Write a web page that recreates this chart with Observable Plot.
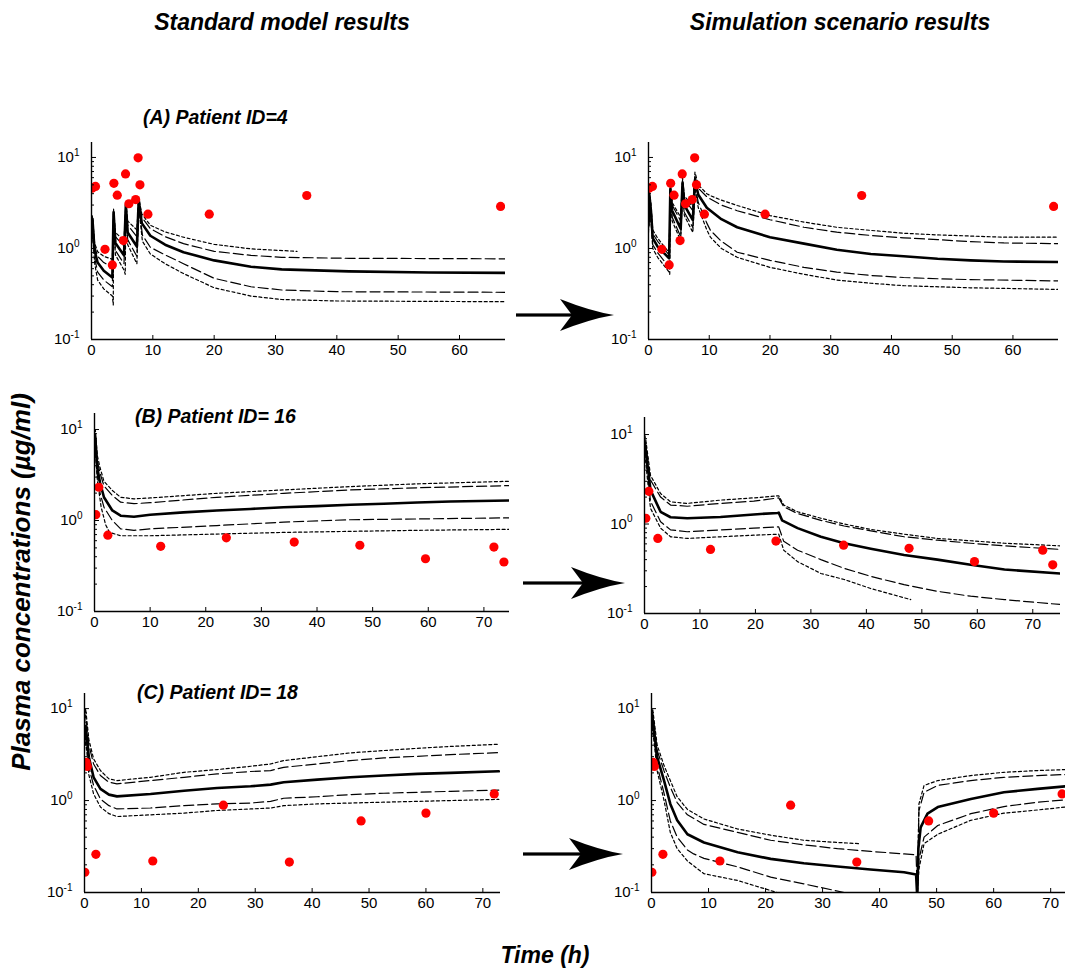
<!DOCTYPE html>
<html><head><meta charset="utf-8">
<script src="https://cdn.jsdelivr.net/npm/d3@7"></script>
<script src="https://cdn.jsdelivr.net/npm/@observablehq/plot@0.6"></script>
<style>
body{margin:0;background:#fff;}
#root{position:relative;width:1065px;height:969px;overflow:hidden;background:#fff;font-family:"Liberation Sans",Arial,sans-serif;}
.t{position:absolute;font-weight:bold;font-style:italic;white-space:nowrap;color:#000;}
</style></head><body><div id="root"></div>
<script>
// ---------- DATA (time in h, concentration in µg/ml) ----------
const colTitles = ["Standard model results", "Simulation scenario results"];
const panelTitles = ["(A) Patient ID=4", "(B) Patient ID= 16", "(C) Patient ID= 18"];
const yLabel = "Plasma concentrations (µg/ml)";
const xLabel = "Time (h)";
const yMajor = [0.1, 1, 10];
const yMinor = [0.2,0.3,0.4,0.5,0.6,0.7,0.8,0.9,2,3,4,5,6,7,8,9];
const yTickExp = ["-1", "0", "1"];
const xTicksA = [0,10,20,30,40,50,60];
const xTicksBC = [0,10,20,30,40,50,60,70];

// observed concentrations
const obsA = [[0.1,4.6],[0.65,4.8],[2.2,0.98],[3.4,0.66],[3.65,5.2],[4.2,3.85],[5.2,1.22],[5.55,6.6],[6.1,3.1],[7.2,3.45],[7.6,9.9],[7.9,5.0],[9.2,2.38],[19.2,2.38],[35.1,3.82],[66.7,2.9]];
const obsB = [[0.24,1.16],[0.78,2.32],[2.4,0.69],[11.9,0.52],[23.7,0.645],[35.9,0.58],[47.7,0.535],[59.5,0.38],[71.8,0.51],[73.6,0.35]];
const obsC = [[0.06,0.166],[0.3,2.6],[0.5,2.35],[2.0,0.26],[12.0,0.22],[24.4,0.89],[36.0,0.214],[48.6,0.60],[60.0,0.73],[72.0,1.18]];

// Patient 4, standard model
const medA_std = [[0,1.3],[0.15,2.1],[0.5,0.95],[1,0.7],[2,0.57],[3.4,0.48],[3.6,2.5],[3.9,1.15],[5.3,0.84],[5.6,3.0],[5.9,1.5],[7.4,1.05],[7.7,3.4],[8.2,1.9],[9.6,1.38],[12,1.1],[15,0.91],[20,0.74],[26,0.63],[31,0.59],[42,0.56],[55,0.545],[67.5,0.54]];
const hiA_std = [[0,1.5],[0.15,2.2],[0.5,1.05],[1,0.82],[2,0.7],[3.4,0.62],[3.6,2.6],[3.9,1.35],[5.3,1.05],[5.6,3.1],[5.9,1.8],[7.4,1.35],[7.7,3.5],[8.2,2.2],[9.6,1.65],[12,1.35],[15,1.13],[20,0.93],[26,0.84],[31,0.8],[42,0.78],[55,0.775],[67.5,0.77]];
const topA_std = [[0,1.6],[0.15,2.3],[0.5,1.15],[1,0.92],[2,0.82],[3.4,0.76],[3.6,2.7],[3.9,1.5],[5.3,1.22],[5.6,3.2],[5.9,2.0],[7.4,1.6],[7.7,3.6],[8.2,2.4],[9.6,1.8],[12,1.52],[15,1.33],[20,1.11],[26,0.99],[33.5,0.93]];
const loA_std = [[0,1.1],[0.15,1.9],[0.5,0.8],[1,0.55],[2,0.45],[3.4,0.38],[3.6,2.2],[3.9,0.95],[5.3,0.68],[5.6,2.8],[5.9,1.25],[7.4,0.82],[7.7,3.1],[8.3,1.4],[9.6,1.03],[12,0.85],[15,0.68],[20,0.47],[26,0.38],[31,0.35],[40,0.335],[67.5,0.33]];
const botA_std = [[0,1.0],[0.15,1.7],[0.5,0.7],[1,0.45],[2,0.36],[3.4,0.3],[3.55,0.24],[3.6,2.0],[3.9,0.85],[5.3,0.58],[5.5,0.52],[5.6,2.6],[5.9,1.1],[7.4,0.68],[7.7,2.9],[8.3,1.2],[9.6,0.87],[12,0.68],[15,0.53],[20,0.37],[26,0.3],[31,0.275],[40,0.265],[67.5,0.26]];

// Patient 4, simulation scenario
const medA_sim = [[0,1.8],[0.15,3.8],[0.4,2.6],[0.7,1.3],[1.5,1.05],[3.4,0.78],[3.6,4.5],[3.9,2.6],[5.3,1.65],[5.6,5.2],[5.9,3.0],[7.3,2.05],[7.65,5.6],[8.2,3.9],[9.6,2.8],[12,2.1],[14.6,1.71],[20,1.33],[25.6,1.13],[31,0.97],[36.6,0.87],[42,0.82],[47.6,0.77],[53,0.74],[58.5,0.72],[67.5,0.71]];
const hiA_sim = [[0,2.0],[0.15,4.0],[0.4,2.9],[0.7,1.45],[1.5,1.2],[3.4,0.85],[3.6,4.8],[3.9,3.0],[5.3,2.0],[5.6,5.6],[5.9,3.5],[7.3,2.6],[7.65,6.2],[8.2,4.6],[9.6,3.7],[10.2,3.5],[12,3.0],[14.6,2.6],[20,2.07],[25.6,1.71],[31,1.51],[36.6,1.39],[42,1.31],[47.6,1.25],[53,1.19],[58.5,1.15],[67.5,1.13]];
const topA_sim = [[0,2.2],[0.15,4.3],[0.4,3.1],[0.7,1.6],[1.5,1.3],[3.4,0.9],[3.6,5.1],[3.9,3.2],[5.3,2.2],[5.6,6.0],[5.9,3.8],[7.3,2.85],[7.65,6.9],[8.2,5.0],[9.6,4.0],[10.2,3.8],[12,3.4],[14.6,2.97],[20,2.3],[25.6,1.95],[31,1.71],[36.6,1.58],[42,1.47],[47.6,1.41],[53,1.37],[58.5,1.33],[67.5,1.33]];
const loA_sim = [[0,1.6],[0.15,3.4],[0.4,2.3],[0.7,1.1],[1.5,0.9],[3.4,0.62],[3.6,4.0],[3.9,2.2],[5.3,1.35],[5.6,4.6],[5.9,2.5],[7.3,1.7],[7.65,5.0],[8.2,3.2],[9.6,1.9],[10.2,1.58],[12,1.2],[14.6,0.91],[20,0.74],[25.6,0.62],[31,0.55],[36.6,0.505],[42,0.48],[47.6,0.465],[53,0.455],[67.5,0.44]];
const botA_sim = [[0,1.5],[0.15,3.1],[0.4,2.1],[0.7,1.0],[1.5,0.8],[3.4,0.55],[3.5,0.52],[3.6,3.6],[3.9,2.0],[5.3,1.22],[5.6,4.2],[5.9,2.3],[7.3,1.5],[7.65,4.6],[8.2,2.8],[9.6,1.6],[10.2,1.33],[12,1.0],[14.6,0.8],[20,0.62],[25.6,0.52],[31,0.45],[36.6,0.415],[42,0.39],[53,0.37],[67.5,0.355]];

// Patient 16, standard model
const medB_std = [[0,8],[0.15,8],[0.48,3.85],[1.0,2.6],[1.7,1.8],[3.2,1.29],[4.7,1.13],[7.1,1.1],[10,1.155],[16,1.23],[22,1.29],[28,1.34],[34,1.4],[40,1.44],[46,1.49],[52,1.53],[58,1.58],[64,1.62],[74.6,1.66]];
const hiB_std = [[0,9],[0.15,9],[0.5,4.6],[1.0,3.3],[1.7,2.4],[3.2,1.88],[4.7,1.59],[7.1,1.53],[10,1.57],[22,1.8],[34,1.99],[46,2.17],[58,2.29],[74.6,2.42]];
const topB_std = [[0,10],[0.15,10],[0.5,5.2],[1.0,3.8],[1.7,2.7],[3.2,2.14],[4.7,1.8],[7.1,1.73],[10,1.77],[22,1.99],[34,2.17],[46,2.36],[58,2.53],[74.6,2.7]];
const loB_std = [[0,7],[0.15,7],[0.5,3.2],[1.0,2.0],[1.7,1.4],[3.2,1.0],[4.7,0.81],[7.1,0.78],[10,0.81],[22,0.88],[34,0.96],[46,1.02],[58,1.04],[74.6,1.07]];
const botB_std = [[0,6],[0.15,6],[0.5,2.8],[1.2,1.4],[2.0,0.9],[2.7,0.74],[4.7,0.68],[7.1,0.68],[10,0.68],[22,0.71],[34,0.74],[46,0.76],[58,0.78],[74.6,0.8]];

// Patient 16, simulation scenario
const medB_sim = [[0,8],[0.2,7],[1.08,2.39],[2.9,1.37],[4.7,1.19],[7.7,1.16],[13.7,1.2],[19.7,1.28],[24,1.33],[24.2,1.34],[24.8,1.1],[27.6,0.9],[31.8,0.72],[36,0.61],[40.8,0.53],[46.8,0.45],[52.8,0.4],[58.8,0.35],[64.9,0.31],[75,0.28]];
const hiB_sim = [[0,9],[0.2,8],[1.08,3.1],[2.9,2.0],[4.7,1.63],[7.7,1.58],[13.7,1.7],[19.7,1.8],[24.2,1.96],[25.1,1.56],[27.6,1.31],[31.8,1.1],[36,0.95],[40.8,0.84],[46.8,0.72],[52.8,0.66],[58.8,0.61],[64.9,0.57],[75,0.52]];
const topB_sim = [[0,10],[0.2,9],[1.08,3.5],[2.9,2.19],[4.7,1.77],[7.7,1.7],[13.7,1.85],[19.7,1.96],[24.2,2.07],[25.1,1.63],[27.6,1.37],[31.8,1.16],[36,1.0],[40.8,0.87],[46.8,0.77],[52.8,0.69],[58.8,0.65],[64.9,0.61],[75,0.57]];
const loB_sim = [[0,7],[0.2,6],[1.08,1.8],[2.9,1.06],[4.7,0.86],[7.7,0.82],[13.7,0.86],[19.7,0.9],[24.2,0.93],[25.1,0.64],[27.6,0.51],[31.8,0.4],[36,0.32],[40.8,0.26],[46.8,0.21],[52.8,0.177],[58.8,0.156],[64.9,0.143],[75,0.126]];
const botB_sim = [[0,6],[0.2,5],[1.08,1.5],[2.9,0.9],[4.7,0.72],[7.7,0.69],[13.7,0.72],[19.7,0.75],[24.2,0.77],[25.1,0.51],[27.6,0.38],[31.8,0.28],[36,0.24],[40.8,0.19],[46.8,0.15],[48,0.143]];

// Patient 18, standard model
const medC_std = [[0,5],[0.2,6.5],[0.77,2.96],[1.6,1.79],[2.8,1.34],[4.3,1.16],[5.7,1.11],[11.6,1.18],[17.5,1.28],[23.3,1.37],[29.2,1.43],[32.7,1.49],[35,1.58],[40.9,1.69],[46.7,1.79],[52.6,1.87],[58.5,1.95],[64.3,2.0],[72.8,2.08]];
const hiC_std = [[0,7],[0.2,8.5],[0.77,4.0],[1.6,2.5],[2.8,1.87],[4.3,1.58],[5.7,1.52],[11.6,1.65],[17.5,1.79],[23.3,1.95],[29.2,2.07],[32.7,2.12],[35,2.3],[40.9,2.5],[46.7,2.72],[52.6,2.91],[58.5,3.03],[64.3,3.16],[72.8,3.32]];
const topC_std = [[0,8],[0.2,10],[0.77,4.6],[1.6,2.84],[2.8,2.12],[4.3,1.72],[5.7,1.65],[11.6,1.79],[17.5,2.03],[23.3,2.17],[29.2,2.36],[32.7,2.5],[35,2.72],[40.9,3.0],[46.7,3.3],[52.6,3.5],[58.5,3.7],[64.3,3.88],[72.8,4.1]];
const loC_std = [[0,4],[0.2,5.5],[0.77,2.3],[1.6,1.46],[2.8,1.04],[4.3,0.88],[5.7,0.81],[11.6,0.83],[17.5,0.88],[23.3,0.92],[29.2,0.94],[32.7,0.98],[35,1.06],[40.9,1.1],[46.7,1.16],[52.6,1.2],[58.5,1.23],[64.3,1.26],[72.8,1.3]];
const botC_std = [[0,3.5],[0.2,4.8],[0.77,1.9],[1.6,1.18],[2.8,0.85],[4.3,0.72],[5.7,0.67],[11.6,0.7],[17.5,0.73],[23.3,0.78],[29.2,0.81],[32.7,0.83],[35,0.88],[40.9,0.92],[46.7,0.94],[52.6,0.96],[58.5,0.98],[64.3,1.0],[72.8,1.03]];

// Patient 18, simulation scenario
const medC_sim = [[0,6],[0.2,7.7],[1.0,2.96],[2.2,1.65],[3.3,0.92],[4.5,0.61],[6.3,0.43],[9.2,0.35],[15.1,0.274],[20.9,0.232],[26.7,0.208],[32.6,0.192],[38.4,0.178],[44.3,0.166],[46.4,0.157],[46.6,0.09],[46.8,0.3],[47.2,0.51],[48.4,0.72],[50.2,0.85],[56,1.04],[61.8,1.23],[67.7,1.34],[72.6,1.43]];
const hiC_sim = [[0,8],[0.2,9],[1.0,3.5],[2.2,2.1],[3.3,1.4],[4.5,0.95],[6.3,0.7],[9.2,0.55],[15.1,0.45],[20.9,0.37],[26.7,0.33],[32.6,0.3],[38.4,0.28],[44.3,0.263],[46.4,0.257],[46.6,0.1],[46.9,0.78],[47.8,1.23],[50.2,1.46],[56,1.65],[61.8,1.79],[67.7,1.87],[72.6,1.92]];
const topC_sim = [[0,9],[0.2,10],[1.0,4.0],[2.2,2.4],[3.3,1.65],[4.5,1.1],[6.3,0.8],[9.2,0.63],[15.1,0.49],[20.9,0.42],[26.7,0.37],[32.6,0.35],[36.4,0.34]];
const topC_sim2 = [[46.6,0.1],[46.9,0.92],[47.8,1.46],[50.2,1.65],[56,1.87],[61.8,2.03],[67.7,2.12],[72.6,2.17]];
const loC_sim = [[0,6],[0.2,7],[1.0,2.4],[2.2,1.2],[3.3,0.6],[4.5,0.4],[6.3,0.29],[7.4,0.263],[9.2,0.235],[15.1,0.19],[20.9,0.147],[26.7,0.124],[33.8,0.1],[36,0.095]];
const loC_sim2 = [[46.6,0.09],[46.9,0.23],[47.8,0.4],[50.2,0.535],[56,0.72],[61.8,0.86],[67.7,0.96],[72.6,1.02]];
const botC_sim = [[0,5],[0.2,6],[1.0,2.1],[2.2,1.0],[3.3,0.45],[4.5,0.3],[6.3,0.22],[9.2,0.16],[15.1,0.135],[22,0.1],[24,0.095]];
const botC_sim2 = [[46.6,0.09],[46.9,0.18],[47.8,0.34],[50.2,0.43],[56,0.61],[61.8,0.73],[67.7,0.79],[72.6,0.85]];

// ---------- STYLES & LAYOUT ----------
const STYLE = {
  med: {w: 2.6, dash: null},
  dash: {w: 1.2, dash: "10,4"},
  dot: {w: 1.2, dash: "3,2.5"}
};
const S = (data, kind) => ({data, kind});
const panels = [
  {frame:[91,505,142,339], xDomain:[0,67.5], yDomain:[0.1,14.6], xTicks:xTicksA, obs:obsA,
   series:[S(topA_std,"dot"),S(hiA_std,"dash"),S(medA_std,"med"),S(loA_std,"dash"),S(botA_std,"dot")]},
  {frame:[648,1058,142,339], xDomain:[0,67.5], yDomain:[0.1,14.6], xTicks:xTicksA, obs:obsA,
   series:[S(topA_sim,"dot"),S(hiA_sim,"dash"),S(medA_sim,"med"),S(loA_sim,"dash"),S(botA_sim,"dot")]},
  {frame:[94,509,413,611], xDomain:[0,74.6], yDomain:[0.1,15], xTicks:xTicksBC, obs:obsB,
   series:[S(topB_std,"dot"),S(hiB_std,"dash"),S(medB_std,"med"),S(loB_std,"dash"),S(botB_std,"dot")]},
  {frame:[644,1060,417,613], xDomain:[0,75], yDomain:[0.1,15.5], xTicks:xTicksBC, obs:obsB,
   series:[S(topB_sim,"dot"),S(hiB_sim,"dash"),S(medB_sim,"med"),S(loB_sim,"dash"),S(botB_sim,"dot")]},
  {frame:[84,500,693,892], xDomain:[0,73.1], yDomain:[0.1,14.6], xTicks:xTicksBC, obs:obsC,
   series:[S(topC_std,"dot"),S(hiC_std,"dash"),S(medC_std,"med"),S(loC_std,"dash"),S(botC_std,"dot")]},
  {frame:[651,1065,693,892], xDomain:[0,72.6], yDomain:[0.1,14.6], xTicks:xTicksBC, obs:obsC,
   series:[S(topC_sim,"dot"),S(topC_sim2,"dot"),S(hiC_sim,"dash"),S(medC_sim,"med"),S(loC_sim,"dash"),S(loC_sim2,"dash"),S(botC_sim,"dot"),S(botC_sim2,"dot")]}
];

const root = document.getElementById("root");
const FONT = '"Liberation Sans", Arial, sans-serif';
const NS = "http://www.w3.org/2000/svg";

function drawPanel(cfg) {
  const [x0,x1,y0,y1] = cfg.frame;
  const ml = 60, mr = 8, mt = 8, mb = 28;
  const marks = [];
  for (const s of cfg.series) {
    const st = STYLE[s.kind];
    marks.push(Plot.line(s.data, {x: d => d[0], y: d => d[1], stroke: "#000", strokeWidth: st.w,
      strokeDasharray: st.dash, clip: true}));
  }
  marks.push(Plot.dot(cfg.obs, {x: d => d[0], y: d => d[1], r: 4.6, fill: "#ff0000", stroke: "none", clip: true}));
  marks.push(Plot.ruleX([cfg.xDomain[0]], {stroke: "#000", strokeWidth: 1.4}));
  marks.push(Plot.ruleY([cfg.yDomain[0]], {stroke: "#000", strokeWidth: 1.4}));
  marks.push(Plot.axisY({ticks: yMajor, tickSize: 0, tickPadding: 12, label: null, fontSize: 15,
    tickFormat: d => "10"}));
  marks.push(Plot.axisY({ticks: yMajor, tickSize: 5, dx: 5, label: null, tickFormat: () => ""}));
  marks.push(Plot.axisY({ticks: yMinor, tickSize: 3, dx: 3, label: null, tickFormat: () => ""}));
  marks.push(Plot.axisX({ticks: cfg.xTicks, tickSize: 0, tickPadding: 5, label: null, fontSize: 15}));
  marks.push(Plot.axisX({ticks: cfg.xTicks, tickSize: 4, dy: -4, label: null, tickFormat: () => ""}));
  const svg = Plot.plot({
    width: (x1 - x0) + ml + mr, height: (y1 - y0) + mt + mb,
    marginLeft: ml, marginRight: mr, marginTop: mt, marginBottom: mb,
    x: {domain: cfg.xDomain},
    y: {type: "log", domain: cfg.yDomain},
    style: {fontFamily: FONT, fontSize: "15px", background: "transparent", color: "#000", overflow: "visible"},
    marks
  });
  // add exponent superscripts to the "10" tick labels
  const g = svg.querySelector('g[aria-label="y-axis tick label"]');
  if (g) {
    g.querySelectorAll("text").forEach((t, i) => {
      const ts = document.createElementNS(NS, "tspan");
      ts.setAttribute("font-size", "10");
      ts.setAttribute("dy", "-0.65em");
      ts.textContent = yTickExp[i];
      t.appendChild(ts);
    });
  }
  svg.style.position = "absolute";
  svg.style.left = (x0 - ml) + "px";
  svg.style.top = (y0 - mt) + "px";
  svg.style.maxWidth = "none";
  root.appendChild(svg);
}
panels.forEach(drawPanel);

// ---------- TEXT ----------
function addText(str, cx, cy, size, rotate) {
  const d = document.createElement("div");
  d.className = "t";
  d.textContent = str;
  d.style.fontSize = size + "px";
  d.style.left = cx + "px";
  d.style.top = cy + "px";
  d.style.transform = "translate(-50%,-50%)" + (rotate ? ` rotate(${rotate}deg)` : "");
  root.appendChild(d);
}
function addTextLeft(str, x, cy, size) {
  const d = document.createElement("div");
  d.className = "t";
  d.textContent = str;
  d.style.fontSize = size + "px";
  d.style.left = x + "px";
  d.style.top = cy + "px";
  d.style.transform = "translate(0,-50%)";
  root.appendChild(d);
}
addText(colTitles[0], 282, 22, 23);
addText(colTitles[1], 840, 22, 23);
addTextLeft(panelTitles[0], 143, 117, 19.5);
addTextLeft(panelTitles[1], 135, 416, 19.5);
addTextLeft(panelTitles[2], 137, 692, 19.5);
addText(yLabel, 21, 582, 26, -90);
addText(xLabel, 545, 955, 23);

// ---------- ARROWS ----------
const arrows = [[516, 614, 315], [523, 625, 583], [523, 623, 854]];
const asvg = document.createElementNS(NS, "svg");
asvg.setAttribute("width", 1065); asvg.setAttribute("height", 969);
asvg.style.position = "absolute"; asvg.style.left = "0"; asvg.style.top = "0"; asvg.style.pointerEvents = "none";
for (const [xs, xt, y] of arrows) {
  const shaft = document.createElementNS(NS, "rect");
  shaft.setAttribute("x", xs); shaft.setAttribute("y", y - 1.6);
  shaft.setAttribute("width", xt - 40 - xs); shaft.setAttribute("height", 3.2);
  shaft.setAttribute("fill", "#000");
  asvg.appendChild(shaft);
  const head = document.createElementNS(NS, "path");
  head.setAttribute("d", `M${xt},${y} Q${xt-24},${y-4} ${xt-54},${y-16} L${xt-42},${y} L${xt-54},${y+16} Q${xt-24},${y+4} ${xt},${y} Z`);
  head.setAttribute("fill", "#000");
  asvg.appendChild(head);
}
root.appendChild(asvg);
</script></body></html>
